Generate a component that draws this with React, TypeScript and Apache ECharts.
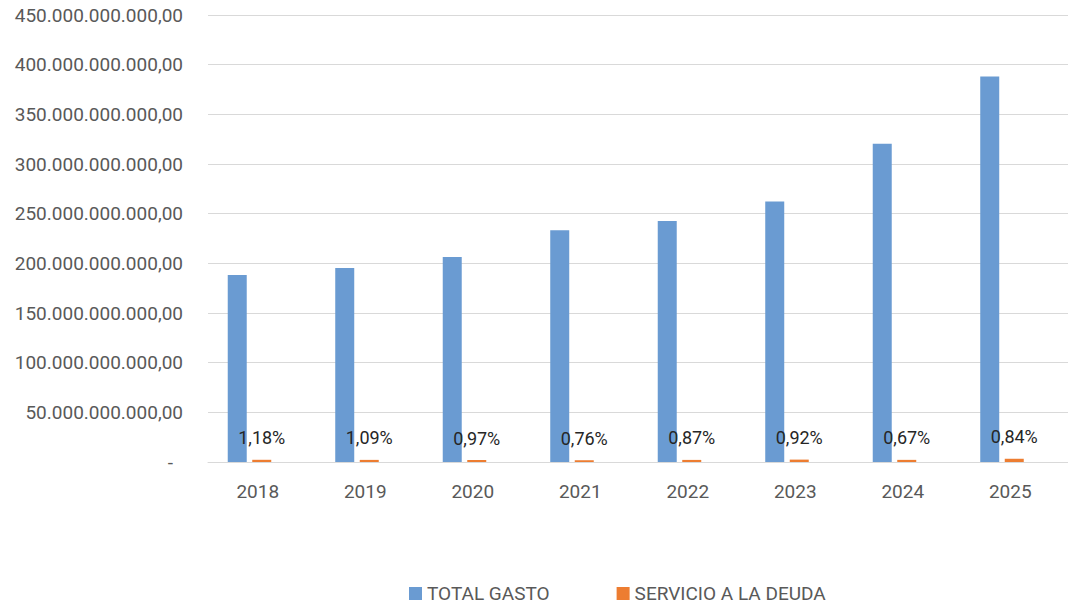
import React, { useEffect, useRef } from "react";
import * as echarts from "echarts";

const years = ["2018", "2019", "2020", "2021", "2022", "2023", "2024", "2025"];
const totalGasto = [188.3e9, 195.2e9, 206.4e9, 233.3e9, 242.6e9, 262.2e9, 320.4e9, 388.0e9];
const servicioDeuda = [2.22e9, 2.13e9, 2.0e9, 1.77e9, 2.11e9, 2.41e9, 2.15e9, 3.26e9];
const pctLabels = ["1,18%", "1,09%", "0,97%", "0,76%", "0,87%", "0,92%", "0,67%", "0,84%"];
const hiddenSeries = [0, 0, 0, 0, 0, 0, 0, 0];

const FONT = "Roboto, 'Noto Sans', sans-serif";

function fmtEs(v: number): string {
  if (v === 0) return "{z|-}";
  const s = Math.round(v).toString().replace(/\B(?=(\d{3})+(?!\d))/g, ".");
  return s + ",00";
}

export default function App() {
  const ref = useRef<HTMLDivElement>(null);
  useEffect(() => {
    if (!ref.current) return;
    const chart = echarts.init(ref.current, null, { renderer: "svg" });
    chart.setOption({
      animation: false,
      backgroundColor: "#ffffff",
      grid: { left: 208, top: 15, bottom: 144, width: 875, containLabel: false },
      legend: {
        data: ["TOTAL GASTO", "SERVICIO A LA DEUDA"],
        left: 409,
        top: 584,
        padding: 0,
        itemWidth: 13,
        itemHeight: 13,
        itemGap: 67,
        icon: "rect",
        textStyle: { color: "#595959", fontSize: 19, lineHeight: 18, fontFamily: FONT },
      },
      xAxis: {
        type: "category",
        data: years,
        axisLine: { show: true, lineStyle: { color: "#d9d9d9", width: 1 } },
        axisTick: { show: false },
        axisLabel: {
          color: "#595959",
          fontSize: 19,
          fontFamily: FONT,
          margin: 20,
          formatter: (v: string) => "{a|" + v + "}",
          rich: { a: { color: "#595959", fontSize: 19, fontFamily: FONT, padding: [0, 8, 0, 0] } },
        },
      },
      yAxis: {
        type: "value",
        min: 0,
        max: 450e9,
        interval: 50e9,
        axisLine: { show: false },
        axisTick: { show: false },
        splitLine: { lineStyle: { color: "#d9d9d9", width: 1 } },
        axisLabel: {
          color: "#595959",
          fontSize: 19,
          fontFamily: FONT,
          margin: 25,
          formatter: fmtEs,
          rich: { z: { color: "#595959", fontSize: 19, fontFamily: FONT, padding: [0, 10, 0, 0] } },
        },
      },
      series: [
        {
          name: "TOTAL GASTO",
          type: "bar",
          data: totalGasto,
          barWidth: 19,
          barGap: "29%",
          itemStyle: { color: "#6a9bd2" },
        },
        {
          name: "SERVICIO A LA DEUDA",
          type: "bar",
          data: servicioDeuda,
          barWidth: 19,
          barGap: "29%",
          itemStyle: { color: "#ed7d31" },
          label: {
            show: true,
            position: "top",
            distance: 13,
            color: "#262626",
            fontSize: 18,
            fontFamily: FONT,
            formatter: (p: any) => pctLabels[p.dataIndex],
          },
        },
        {
          name: "pct",
          type: "bar",
          data: hiddenSeries,
          barWidth: 19,
          barGap: "29%",
          itemStyle: { color: "rgba(0,0,0,0)" },
          silent: true,
        },
      ],
    });
    return () => chart.dispose();
  }, []);
  return (
    <div
      ref={ref}
      style={{ position: "fixed", left: 0, top: 0, width: 1068, height: 606 }}
    />
  );
}
